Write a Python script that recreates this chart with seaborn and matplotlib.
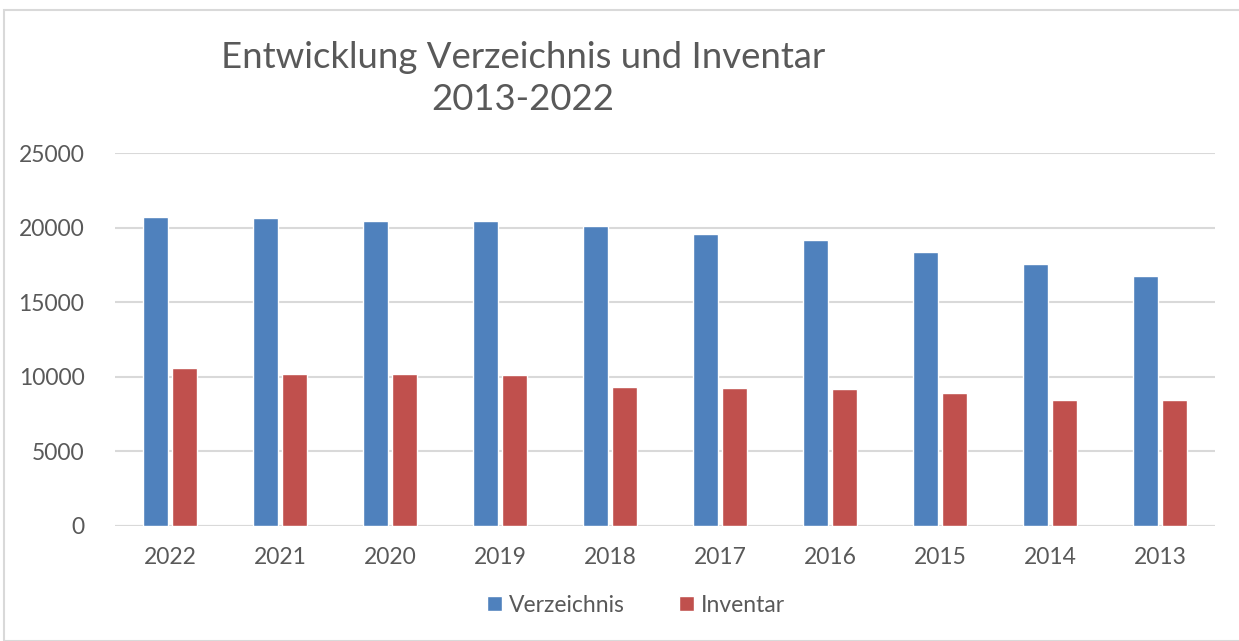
import pandas as pd
import matplotlib
matplotlib.use("Agg")
import matplotlib.pyplot as plt
import seaborn as sns
from matplotlib.patches import Rectangle

years = ['2022', '2021', '2020', '2019', '2018', '2017', '2016', '2015', '2014', '2013']
verzeichnis = [20700, 20660, 20460, 20410, 20100, 19570, 19140, 18340, 17560, 16780]
inventar = [10560, 10200, 10170, 10130, 9290, 9240, 9170, 8920, 8430, 8430]
series = ['Verzeichnis', 'Inventar']
colors = ['#4F81BD', '#C0504D']

df = pd.DataFrame({'Jahr': years * 2,
                   'Wert': verzeichnis + inventar,
                   'Reihe': [series[0]] * len(years) + [series[1]] * len(years)})

sns.set_style("white")
plt.rcParams['font.family'] = ['Lato', 'DejaVu Sans']
txt = '#595959'

fig = plt.figure(figsize=(12.39, 6.41), dpi=100)
ax = fig.add_axes([115/1239, 1-526/641, 1100/1239, 373/641])

sns.barplot(data=df, x='Jahr', y='Wert', hue='Reihe', order=years, hue_order=series,
            palette=colors, width=0.54, gap=0.16, ax=ax, saturation=1, legend=True)

ax.set_xlim(-0.5, 9.5)
ax.set_ylim(0, 25000)
ax.set_yticks(range(0, 25001, 5000))
ax.yaxis.grid(True, color='#d9d9d9', linewidth=1.5)
ax.set_axisbelow(True)
for s in ax.spines.values():
    s.set_visible(False)
ax.axhline(0, color='#d9d9d9', linewidth=1.5, zorder=0)
ax.set_xlabel('')
ax.set_ylabel('')
ax.tick_params(axis='both', length=0, labelsize=16.5, colors=txt)
ax.tick_params(axis='x', pad=15)
ax.tick_params(axis='y', pad=22)

ax.legend(loc='center', bbox_to_anchor=(636/1239, 1-605/641), bbox_transform=fig.transFigure,
          ncol=2, frameon=False, fontsize=16.5, handlelength=0.65, handleheight=0.65,
          handletextpad=0.3, columnspacing=2.4, labelcolor=txt)

fig.text(523/1239, 1-57/641, 'Entwicklung Verzeichnis und Inventar', ha='center', va='center',
         fontsize=26.3, color=txt)
fig.text(523/1239, 1-100/641, '2013-2022', ha='center', va='center', fontsize=26.3, color=txt)

fig.patches.append(Rectangle((4/1239, 0), 1, 1-10/641, transform=fig.transFigure,
                             fill=False, edgecolor='#d9d9d9', linewidth=1.5))

fig.savefig('out.png', dpi=100)
